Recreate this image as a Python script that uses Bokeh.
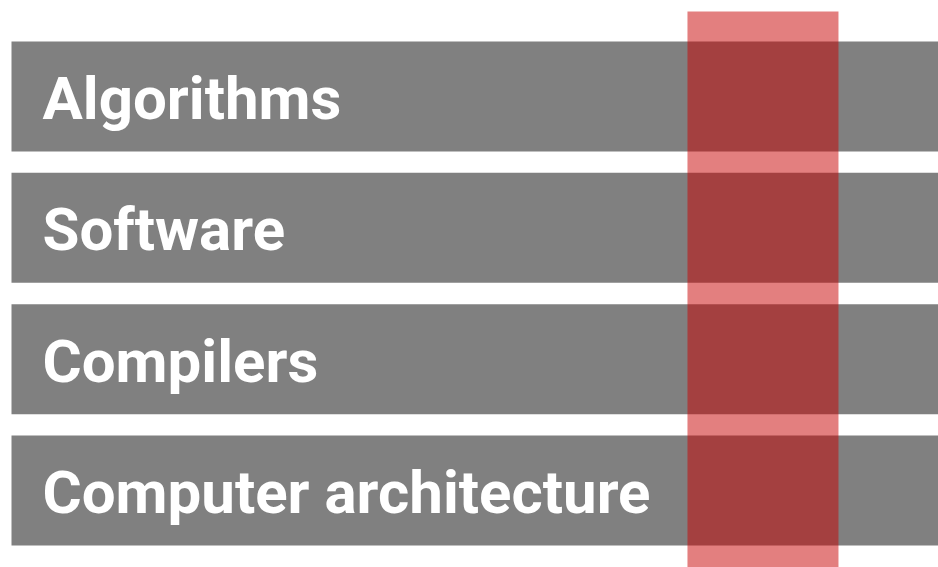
from bokeh.plotting import figure
from bokeh.models import Range1d, ColumnDataSource
from bokeh.core.properties import value
from bokeh.embed import file_html
from bokeh.resources import INLINE

# Data
categories = ["Algorithms", "Software", "Compilers", "Computer architecture"]
bar_values = [1.0, 1.0, 1.0, 1.0]
highlight_start = 0.7292
highlight_end = 0.8921

positions = list(range(len(categories)))
src = ColumnDataSource(dict(y=positions, right=bar_values, label=categories,
                            left=[0.0] * len(categories)))

p = figure(width=938, height=567, output_backend="svg", toolbar_location=None,
           x_range=Range1d(-0.01187, 1.0), y_range=Range1d(3.586, -0.731),
           min_border=0)
p.axis.visible = False
p.grid.visible = False
p.outline_line_color = None
p.background_fill_color = "white"
p.border_fill_color = "white"

p.hbar(y="y", left="left", right="right", height=0.8376, source=src,
       fill_color="#808080", line_color=None)

p.text(x=0.0334, y="y", text="label", source=src, text_color="white",
       text_font=value("Roboto"), text_font_style="bold",
       text_font_size="60px", text_baseline="alphabetic", y_offset=2)

p.quad(left=[highlight_start], right=[highlight_end], top=[-0.647], bottom=[3.7],
       fill_color="#c80000", fill_alpha=0.5, line_color=None)

open("out.html", "w").write(file_html(p, INLINE))
